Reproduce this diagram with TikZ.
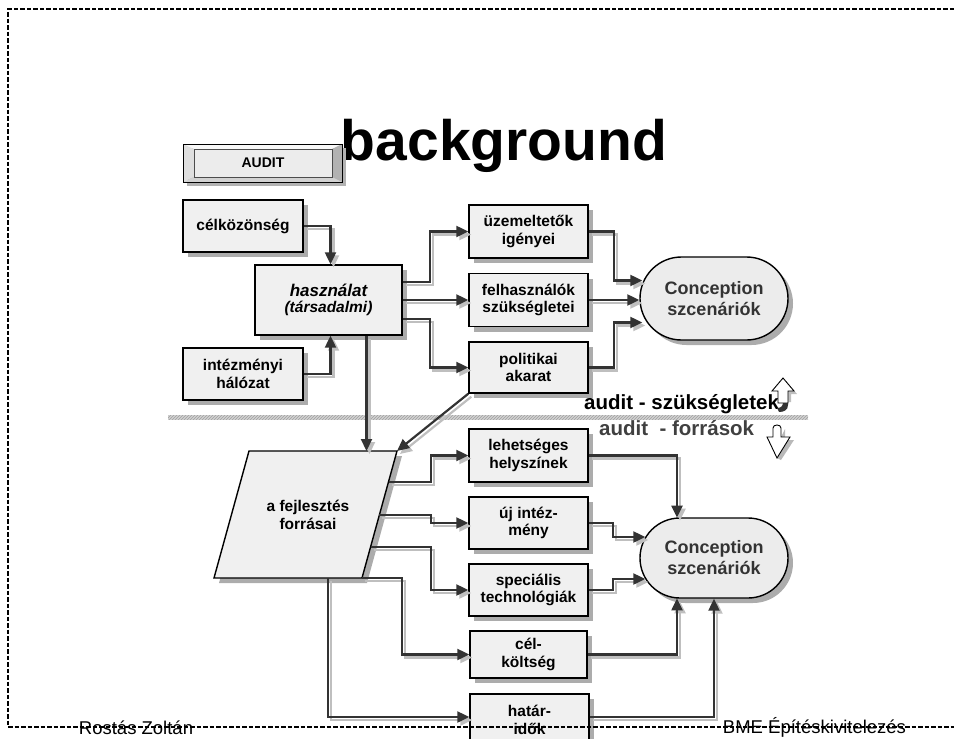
\documentclass[tikz,border=0pt]{standalone}
\usepackage{fontspec}
\setmainfont{Liberation Sans}
\usetikzlibrary{shadows,arrows.meta,calc,shapes.misc,patterns}
\newcommand\cnx[1]{\draw[cshadow] #1; \draw[cmain] #1;}
\begin{document}
\begin{tikzpicture}[x=1pt,y=-1pt,
  shad/.style={drop shadow={shadow xshift=5pt,shadow yshift=-5pt,fill=gray!65,opacity=1}},
  box/.style={draw=black,line width=1.4pt,fill=gray!12,minimum width=119pt,minimum height=53pt,
    inner sep=0pt,align=center,font=\bfseries\fontsize{15.5}{17.5}\selectfont,shad},
  conc/.style={rounded rectangle,draw=black,line width=1.4pt,fill=gray!15,minimum width=148pt,
    minimum height=83pt,inner sep=0pt,align=center,font=\bfseries\fontsize{18}{21}\selectfont,
    text=black!80,shad},
  cmain/.style={draw=black!80,line width=2.2pt,-{Triangle[length=12pt,width=11pt]}},
  cshadow/.style={draw=gray!50,line width=2.2pt,-{Triangle[length=12pt,width=11pt]},
    transform canvas={shift={(3,3)}}},
  border/.style={draw=black,line width=2.2pt,dash pattern=on 4.5pt off 2pt},
  foot/.style={font=\fontsize{18.5}{20}\selectfont,anchor=base,inner sep=0pt},
  bigtxt/.style={font=\bfseries\fontsize{20.5}{24}\selectfont,anchor=base west,inner sep=0pt}
]
\useasboundingbox (0,0) rectangle (954,739);

% title
\node[font=\bfseries\fontsize{57}{60}\selectfont,anchor=base,inner sep=0pt] (title) at (504,160) {background};

% AUDIT button
\fill[gray!60] (187,148) rectangle (346,186);
\fill[gray!5] (183,144) -- (342,144) -- (332,149) -- (194,149) -- cycle;
\fill[gray!25] (183,144) -- (194,149) -- (194,177) -- (183,182) -- cycle;
\fill[gray!60] (342,144) -- (342,182) -- (332,177) -- (332,149) -- cycle;
\fill[gray!35] (183,182) -- (342,182) -- (332,177) -- (194,177) -- cycle;
\draw[line width=0.9pt] (183,144) rectangle (342,182);
\node[draw=black!70,line width=0.5pt,fill=gray!15,minimum width=138pt,minimum height=28pt,inner sep=0pt,
  font=\bfseries\fontsize{14}{16}\selectfont] (audit) at (263,163) {AUDIT};

% upper boxes
\node[box,minimum width=120pt,minimum height=52pt] (cel) at (243,226) {célközönség};
\node[box,minimum width=147pt,minimum height=70pt] (hasz) at (328.5,300)
  {{\fontsize{17}{18}\selectfont\bfseries\itshape használat}\\[-1pt]{\bfseries\itshape (társadalmi)}};
\node[box,minimum width=120pt,minimum height=52pt] (intez) at (243,374) {intézményi\\hálózat};
\node[box] (uzem) at (528.5,231.5) {üzemeltetők\\igényei};
\node[box] (felh) at (528.5,300) {felhasználók\\szükségletei};
\node[box,minimum height=51pt] (poli) at (528.5,367.5) {politikai\\akarat};
\node[conc] (conc1) at (714,298.5) {Conception\\szcenáriók};

% separator
\fill[gray!35] (168,415) rectangle (808,419.5);
\fill[pattern=north east lines,pattern color=gray!75] (168,415) rectangle (808,419.5);

\node[bigtxt] (aud1) at (584,409) {audit - szükségletek};
\node[bigtxt,text=black!75] (aud2) at (599,435) {audit~ - források};

% up arrow
\fill[black!80] (788,396) -- (788,405) .. controls (788,410) and (784,412) .. (779,412)
  -- (777,408) .. controls (781,408) and (783,406) .. (783,402) -- cycle;
\fill[gray!50] (786,381) -- (797,394) -- (791,394) -- (791,402) -- (786,402) -- cycle;
\draw[fill=white,line width=0.9pt] (783,378) -- (794,391) -- (788,391) -- (788,403)
  -- (778,403) -- (778,391) -- (772,391) -- cycle;
% down arrow
\fill[gray!55] (785,429) -- (785,440) -- (794,440) -- (781,460) -- (777,458) -- (790,437) -- (781,437) -- cycle;
\draw[fill=white,line width=0.9pt] (773,437) -- (773,428) .. controls (773,424) and (781,424) .. (781,428)
  -- (781,437) -- (790,437) -- (777,458) -- (767,437) -- cycle;

% parallelogram
\draw[line width=1.4pt,fill=gray!12,shad] (249,451) -- (397,451) -- (362,578) -- (214,578) -- cycle;
\node[font=\bfseries\fontsize{15.5}{17.5}\selectfont,align=center,inner sep=0pt] (fej) at (308,515) {a fejlesztés\\forrásai};
\coordinate (pTR) at (397,451);
\coordinate (pTop) at (366.5,451);
\coordinate (pBR) at (362,578);
\coordinate (p1) at (388.5,482);
\coordinate (p2) at (379.4,515);
\coordinate (p3) at (370.5,547);
\coordinate (p5) at (328,578);

% lower boxes
\node[box] (lehet) at (528.5,455.5) {lehetséges\\helyszínek};
\node[box,minimum height=52pt] (uj) at (528.5,523) {új intéz-\\mény};
\node[box,minimum height=52pt] (spec) at (528.5,590) {speciális\\technológiák};
\node[box,minimum width=117pt,minimum height=47pt] (celk) at (528.5,654.5) {cél-\\költség};
\node[box,minimum width=119pt,minimum height=52pt] (hatar) at (529.5,720) {határ-\\idők};
\node[conc,minimum height=80pt] (conc2) at (714,558) {Conception\\szcenáriók};

% connectors upper
\cnx{(cel.east) -| ($(hasz.north)+(2,0)$)}
\cnx{(intez.east) -| ($(hasz.south)+(2,0)$)}
\cnx{($(hasz.east)+(0,-18)$) -- ++(27,0) |- (uzem.west)}
\cnx{(hasz.east) -- (felh.west)}
\cnx{($(hasz.east)+(0,19)$) -- ++(27,0) |- (poli.west)}
\cnx{($(hasz.south)+(38,0)$) -- (pTop)}
\cnx{(poli.south west) -- (pTR)}
\cnx{(uzem.east) -- ++(25,0) |- ($(conc1.west)+(3,-18)$)}
\cnx{(felh.east) -- (felh.east -| conc1.west)}
\cnx{(poli.east) -- ++(25,0) |- ($(conc1.west)+(3,24)$)}

% connectors lower
\cnx{(p1) -- ++(42.5,0) |- (lehet.west)}
\cnx{(p2) -- ++(51.6,0) |- (uj.west)}
\cnx{(p3) -- ++(60.5,0) |- (spec.west)}
\cnx{(pBR) -- ++(40,0) |- (celk.west)}
\cnx{(p5) |- ($(hatar.west)+(0,-3)$)}
\cnx{(lehet.east) -| ($(conc2.north)+(-37,0.3)$)}
\cnx{(uj.east) -- ++(24,0) |- ($(conc2.west)+(6,-21)$)}
\cnx{(spec.east) -- ++(24,0) |- ($(conc2.west)+(6,21)$)}
\cnx{(celk.east) -| ($(conc2.south)+(-37,-0.3)$)}
\cnx{($(hatar.east)+(0,-3)$) -| (conc2.south)}

% border
\draw[border] (954,9) -- (8,9) -- (8,727) -- (954,727);

% footer
\node[foot] (foot1) at (136,734) {Rostás Zoltán};
\node[foot] (foot2) at (814.5,733) {BME Építéskivitelezés};
\end{tikzpicture}
\end{document}
